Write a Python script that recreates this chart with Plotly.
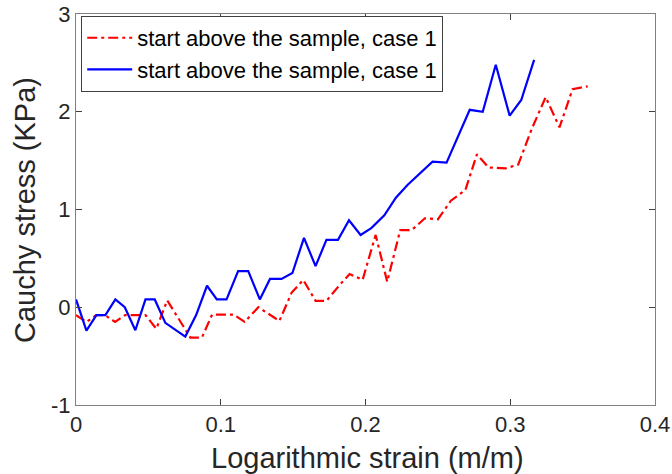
import plotly.graph_objects as go

blue_x = [0.0, 0.0072, 0.0141, 0.0203, 0.0272, 0.0337, 0.041, 0.048, 0.0544, 0.0617,
          0.0755, 0.083, 0.0905, 0.0973, 0.104, 0.112, 0.119, 0.127, 0.134, 0.142,
          0.1495, 0.1575, 0.1655, 0.173, 0.181, 0.1886, 0.1966, 0.204, 0.213, 0.221,
          0.229, 0.238, 0.2463, 0.256, 0.263, 0.272, 0.281, 0.29, 0.2996, 0.3076, 0.3165]
blue_y = [0.08, -0.24, -0.08, -0.08, 0.08, 0.0, -0.235, 0.08, 0.08, -0.16,
          -0.30, -0.08, 0.22, 0.08, 0.08, 0.37, 0.37, 0.08, 0.29, 0.29,
          0.35, 0.71, 0.42, 0.69, 0.69, 0.89, 0.74, 0.81, 0.94, 1.12,
          1.25, 1.37, 1.49, 1.48, 1.71, 2.02, 2.0, 2.48, 1.96, 2.12, 2.53]

red_x = [0.0, 0.0072, 0.014, 0.02, 0.027, 0.034, 0.048, 0.0555, 0.063, 0.079,
         0.087, 0.094, 0.109, 0.1165, 0.126, 0.1405, 0.149, 0.157, 0.1655, 0.173,
         0.182, 0.189, 0.198, 0.207, 0.215, 0.224, 0.232, 0.241, 0.25, 0.259,
         0.269, 0.277, 0.285, 0.2967, 0.3055, 0.315, 0.3245, 0.334, 0.343, 0.3535]
red_y = [-0.08, -0.15, -0.08, -0.08, -0.15, -0.08, -0.08, -0.22, 0.07, -0.31,
         -0.31, -0.075, -0.075, -0.15, 0.0, -0.14, 0.15, 0.28, 0.065, 0.065,
         0.225, 0.34, 0.28, 0.74, 0.26, 0.79, 0.79, 0.91, 0.90, 1.09,
         1.20, 1.565, 1.43, 1.42, 1.46, 1.83, 2.15, 1.84, 2.23, 2.26]

series_names = ["start above the sample, case 1", "start above the sample, case 1"]
x_title = "Logarithmic strain (m/m)"
y_title = "Cauchy stress (KPa)"
x_ticks = [0, 0.1, 0.2, 0.3, 0.4]
x_tick_text = ["0", "0.1", "0.2", "0.3", "0.4"]
y_ticks = [-1, 0, 1, 2, 3]
y_tick_text = ["-1", "0", "1", "2", "3"]

FONT = "Arial, Liberation Sans, Helvetica, sans-serif"
TXT = "#262626"

fig = go.Figure()
fig.add_trace(go.Scatter(x=red_x, y=red_y, mode="lines", name=series_names[0],
                         line=dict(color="#ff0000", width=2.2, dash="10px,4px,3px,4px")))
fig.add_trace(go.Scatter(x=blue_x, y=blue_y, mode="lines", name=series_names[1],
                         line=dict(color="#0000ff", width=2.2)))

axis_common = dict(showgrid=False, zeroline=False, showline=True, linecolor="#808080",
                   linewidth=1, mirror="ticks", ticks="inside", ticklen=6,
                   tickcolor="#404040", automargin=False, ticklabeloverflow="allow",
                   tickfont=dict(family=FONT, size=22, color=TXT))

fig.update_xaxes(range=[0, 0.4], tickvals=x_ticks, ticktext=x_tick_text, **axis_common)
fig.update_yaxes(range=[-1, 3], tickvals=y_ticks, ticktext=y_tick_text, **axis_common)

fig.add_annotation(text=x_title, xref="paper", yref="paper", x=0.503, y=-0.136,
                   xanchor="center", yanchor="middle", showarrow=False,
                   font=dict(family=FONT, size=29, color=TXT))
fig.add_annotation(text=y_title, xref="paper", yref="paper", x=-0.089, y=0.5,
                   xanchor="center", yanchor="middle", showarrow=False, textangle=-90,
                   font=dict(family=FONT, size=29, color=TXT))

fig.update_layout(
    width=672, height=474,
    margin=dict(l=75.5, r=17, t=14, b=69),
    plot_bgcolor="white", paper_bgcolor="white",
    showlegend=True,
    legend=dict(x=0.009, y=0.995, xanchor="left", yanchor="top",
                bgcolor="white", bordercolor="#404040", borderwidth=1,
                font=dict(family=FONT, size=22, color="#000000"),
                itemwidth=45, tracegroupgap=0),
)

fig.write_html("out.html", config={"displayModeBar": False},
               post_script="document.body.style.margin='0';")
